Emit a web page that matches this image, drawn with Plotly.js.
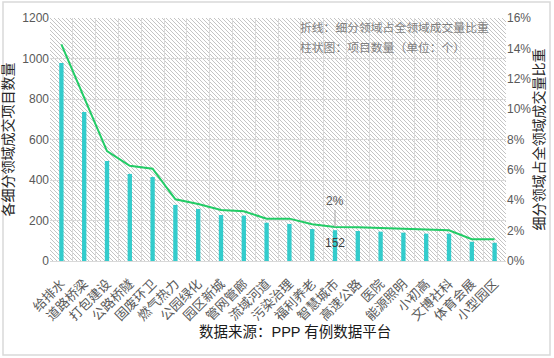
<!DOCTYPE html>
<html>
<head>
<meta charset="utf-8">
<script src="https://cdn.plot.ly/plotly-3.0.1.min.js"></script>
<style>html,body{margin:0;padding:0;background:#fff;}#chart{width:554px;height:358px;}</style>
</head>
<body>
<div id="chart"></div>
<script>
const categories = ["给排水","道路桥梁","打包建设","公路桥隧","固废环卫","燃气热力","公园绿化","园区新城","管网管廊","流域河道","污染治理","福利养老","智慧城市","高速公路","医院","能源照明","小初高","文博社科","体育会展","小型园区"];
const projectCounts = [978, 736, 494, 430, 415, 277, 257, 227, 224, 189, 183, 158, 152, 148, 145, 140, 135, 135, 95, 90];
const sharePercent = [14.27, 10.8, 7.24, 6.27, 6.08, 4.06, 3.75, 3.36, 3.27, 2.79, 2.79, 2.42, 2.24, 2.22, 2.17, 2.11, 2.04, 2.02, 1.43, 1.43];
const leftTicks = [0, 200, 400, 600, 800, 1000, 1200];
const rightTicks = [0, 2, 4, 6, 8, 10, 12, 14, 16];
const labelIndex = 12;

const CJK = "Liberation Sans, Noto Sans CJK SC, sans-serif";

const hatchSvg = '<svg xmlns="http://www.w3.org/2000/svg" width="456" height="243">' +
  '<defs><pattern id="p" width="4" height="4" patternUnits="userSpaceOnUse">' +
  '<path d="M-1,-1 L5,5 M-1,3 L1,5 M3,-1 L5,1" stroke="#c4c4c4" stroke-width="1"/></pattern></defs>' +
  '<rect width="456" height="243" fill="#fff"/><rect width="456" height="243" fill="url(#p)"/></svg>';
const hatchUri = 'data:image/svg+xml;base64,' + btoa(hatchSvg);

const bars = {
  type: 'bar', x: categories, y: projectCounts, yaxis: 'y',
  marker: {color: '#33cccc'}, width: 0.19, hoverinfo: 'x+y'
};
const line = {
  type: 'scatter', mode: 'lines', x: categories, y: sharePercent, yaxis: 'y2',
  line: {color: '#22cc66', width: 2}
};

const layout = {
  width: 554, height: 358,
  margin: {l: 50, r: 48, t: 18, b: 97},
  paper_bgcolor: '#ffffff', plot_bgcolor: 'rgba(0,0,0,0)',
  showlegend: false,
  font: {family: CJK, color: '#595959', size: 12},
  xaxis: {
    type: 'category', tickangle: -45, tickson: 'boundaries',
    showgrid: true, gridcolor: '#d9d9d9', gridwidth: 1,
    showline: true, linecolor: '#d9d9d9', ticks: '', ticklabelstandoff: 9,
    tickfont: {size: 13, color: '#595959', family: CJK},
    range: [-0.5, categories.length - 0.5]
  },
  yaxis: {
    range: [0, 1200], tickvals: leftTicks, ticktext: leftTicks.map(String),
    showgrid: true, gridcolor: '#d9d9d9', zeroline: false,
    showline: false, ticks: '', tickfont: {size: 12, color: '#595959'},
    title: {text: '各细分领域成交项目数量', font: {size: 14, color: '#262626', family: CJK}, standoff: 6}
  },
  yaxis2: {
    overlaying: 'y', side: 'right', range: [0, 16],
    tickvals: rightTicks, ticktext: rightTicks.map(v => v + '%'),
    showgrid: false, zeroline: false, showline: false, ticks: '',
    tickfont: {size: 12, color: '#595959'},
    title: {text: '细分领域占全领域成交量比重', font: {size: 14, color: '#262626', family: CJK}, standoff: 3}
  },
  images: [{
    source: hatchUri, xref: 'paper', yref: 'paper', x: 0, y: 1, sizex: 1, sizey: 1,
    xanchor: 'left', yanchor: 'top', sizing: 'stretch', layer: 'below'
  }],
  shapes: [{
    type: 'rect', xref: 'paper', yref: 'paper', layer: 'above',
    x0: -47 / 456, x1: 1 + 44 / 456, y0: -94 / 243, y1: 1 + 16 / 243,
    line: {color: '#d9d9d9', width: 1.5}
  }],
  annotations: [
    {xref: 'paper', yref: 'paper', x: 248 / 456, y: 1 - 10 / 243, xanchor: 'left', yanchor: 'middle',
     text: '折线：细分领域占全领域成交量比重', showarrow: false, font: {size: 11.8, color: '#7f7f7f', family: CJK}},
    {xref: 'paper', yref: 'paper', x: 248 / 456, y: 1 - 30 / 243, xanchor: 'left', yanchor: 'middle',
     text: '柱状图：项目数量（单位：个）', showarrow: false, font: {size: 11.8, color: '#7f7f7f', family: CJK}},
    {xref: 'paper', yref: 'paper', x: 245 / 456, y: -71 / 243, xanchor: 'center', yanchor: 'middle',
     text: '数据来源：PPP 有例数据平台', showarrow: false, font: {size: 14.5, color: '#1a1a1a', family: CJK}},
    {xref: 'x', yref: 'y2', x: categories[labelIndex], y: sharePercent[labelIndex],
     text: Math.round(sharePercent[labelIndex]) + '%', showarrow: true, arrowhead: 0, arrowwidth: 1,
     arrowcolor: '#a6a6a6', ax: 0, ay: -17, yanchor: 'bottom', font: {size: 12, color: '#595959'}},
    {xref: 'x', yref: 'y', x: categories[labelIndex], y: projectCounts[labelIndex],
     text: String(projectCounts[labelIndex]), showarrow: false, yanchor: 'top', yshift: -4,
     font: {size: 12, color: '#404040'}}
  ]
};

Plotly.newPlot('chart', [bars, line], layout, {displayModeBar: false, staticPlot: true});
</script>
</body>
</html>
